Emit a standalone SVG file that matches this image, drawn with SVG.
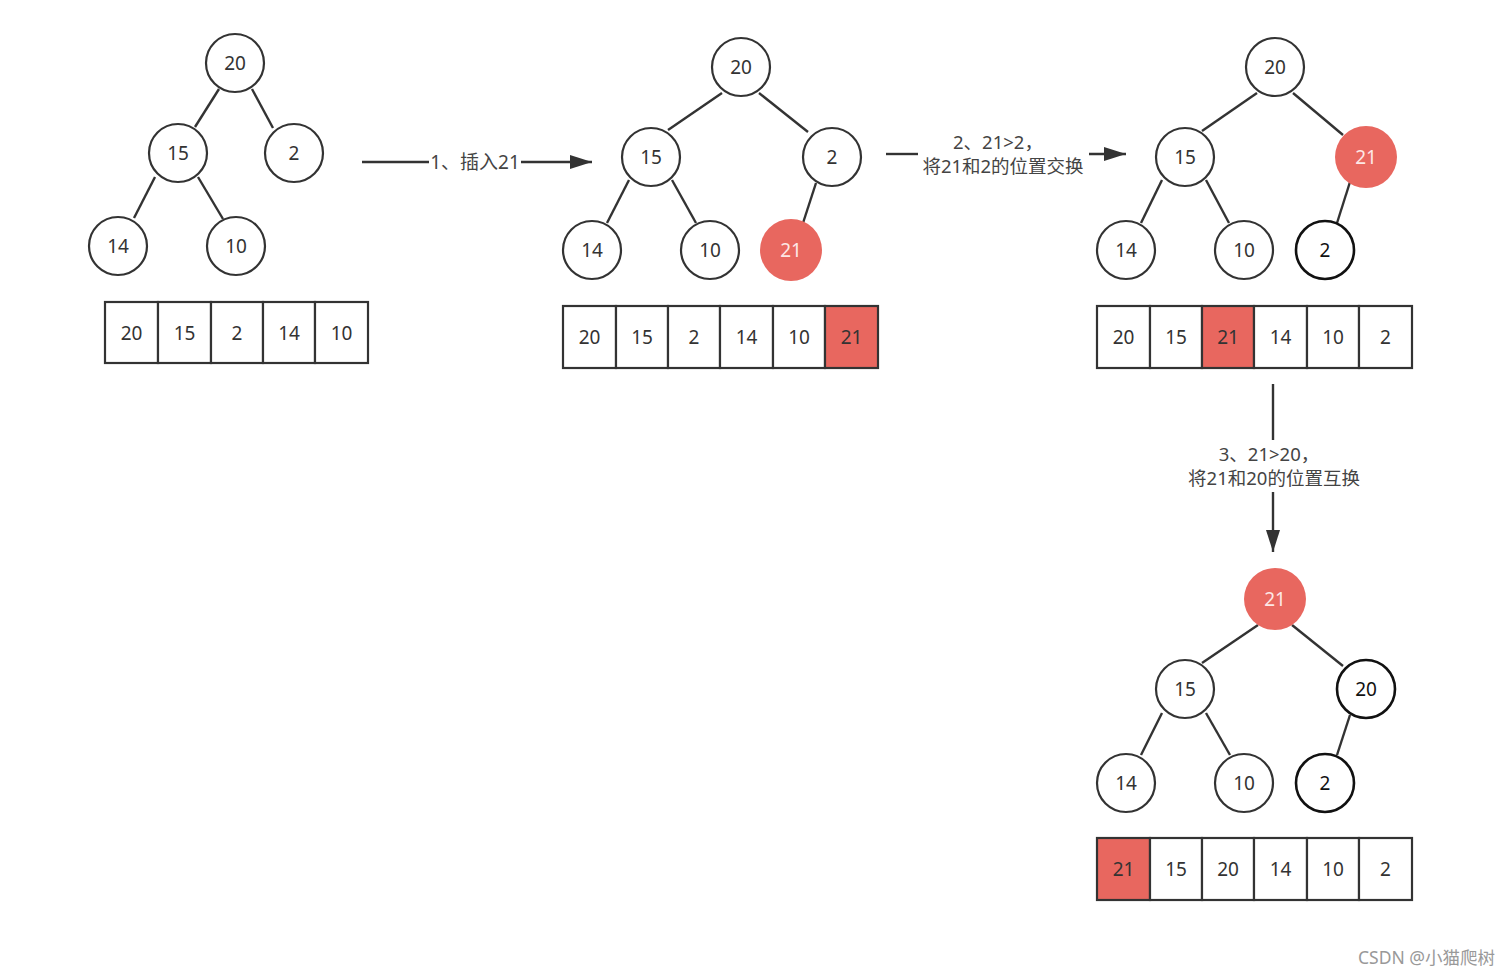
<svg xmlns="http://www.w3.org/2000/svg" width="1510" height="976" viewBox="0 0 1510 976">
<style>
.n{fill:#fff;stroke:#333;stroke-width:2.2}
.nb{fill:#fff;stroke:#111;stroke-width:2.6}
.nr{fill:#e8675f;stroke:none}
.t{font-family:"Noto Sans","Open Sans","Noto Sans CJK SC",sans-serif;font-size:19px;fill:#333;text-anchor:middle;dominant-baseline:central}
.tw{fill:#fde8e6}
.tk{fill:#111}
.c{fill:#fff;stroke:#333;stroke-width:2.2}
.cr{fill:#e8675f;stroke:#333;stroke-width:2.2}
.e{stroke:#333;stroke-width:2.4;fill:none}
.lbl{font-family:"Noto Sans","Noto Sans CJK SC",sans-serif;font-size:19px;fill:#444;text-anchor:middle;dominant-baseline:central}
.lb2{font-family:"Noto Sans","Noto Sans CJK SC",sans-serif;font-size:18.5px;fill:#444;text-anchor:middle}
.wm{font-family:"Noto Sans","Noto Sans CJK SC",sans-serif;font-size:17.5px;fill:#999}
</style>
<defs>
<marker id="ah" markerWidth="24" markerHeight="14" refX="22" refY="7" orient="auto" markerUnits="userSpaceOnUse">
<path d="M0,0 L22,7 L0,14 Z" fill="#333"/>
</marker>
</defs>
<rect width="1510" height="976" fill="#fff"/>

<g id="connectors">
<!-- tree 1 edges -->
<line class="e" x1="219" y1="89" x2="195" y2="127"/>
<line class="e" x1="252" y1="89" x2="273" y2="128"/>
<line class="e" x1="155" y1="177" x2="134" y2="218"/>
<line class="e" x1="198" y1="177" x2="223" y2="219"/>
<!-- tree 2 edges -->
<line class="e" x1="722" y1="93" x2="668" y2="130"/>
<line class="e" x1="759" y1="93" x2="808" y2="132"/>
<line class="e" x1="629" y1="180" x2="607" y2="223"/>
<line class="e" x1="672" y1="180" x2="696" y2="223"/>
<line class="e" x1="816" y1="183" x2="803" y2="223"/>
<!-- tree 3 edges -->
<line class="e" x1="1257" y1="93" x2="1202" y2="131"/>
<line class="e" x1="1293" y1="93" x2="1343" y2="135"/>
<line class="e" x1="1162" y1="180" x2="1141" y2="223"/>
<line class="e" x1="1206" y1="180" x2="1229" y2="223"/>
<line class="e" x1="1350" y1="182" x2="1337" y2="223"/>
<!-- tree 4 edges -->
<line class="e" x1="1258" y1="625" x2="1202" y2="663"/>
<line class="e" x1="1292" y1="625" x2="1343" y2="666"/>
<line class="e" x1="1162" y1="713" x2="1141" y2="755"/>
<line class="e" x1="1206" y1="713" x2="1230" y2="755"/>
<line class="e" x1="1350" y1="715" x2="1337" y2="755"/>
<!-- step arrows -->
<line class="e" x1="362" y1="162" x2="429" y2="162"/>
<line class="e" x1="521" y1="162" x2="592" y2="162" marker-end="url(#ah)"/>
<text class="lbl" x="475" y="162">1、插入21</text>
<line class="e" x1="886" y1="154" x2="918" y2="154"/>
<line class="e" x1="1089" y1="154" x2="1126" y2="154" marker-end="url(#ah)"/>
<text class="lb2" x="998" y="149">2、21&gt;2，</text>
<text class="lb2" x="1003" y="173">将21和2的位置交换</text>
<line class="e" x1="1273" y1="384" x2="1273" y2="440"/>
<line class="e" x1="1273" y1="492" x2="1273" y2="552" marker-end="url(#ah)"/>
<text class="lb2" x="1269" y="461">3、21&gt;20，</text>
<text class="lb2" x="1274" y="485">将21和20的位置互换</text>
</g>

<!-- tree 1 -->
<g id="t1-n20"><circle class="n" cx="235" cy="63" r="29"/><text class="t" x="235" y="63">20</text></g>
<g id="t1-n15"><circle class="n" cx="178" cy="153" r="29"/><text class="t" x="178" y="153">15</text></g>
<g id="t1-n2"><circle class="n" cx="294" cy="153" r="29"/><text class="t" x="294" y="153">2</text></g>
<g id="t1-n14"><circle class="n" cx="118" cy="246" r="29"/><text class="t" x="118" y="246">14</text></g>
<g id="t1-n10"><circle class="n" cx="236" cy="246" r="29"/><text class="t" x="236" y="246">10</text></g>
<g id="t1-array">
<rect class="c" x="105" y="302" width="53" height="61"/><text class="t" x="131.5" y="333">20</text>
<rect class="c" x="158" y="302" width="53" height="61"/><text class="t" x="184.5" y="333">15</text>
<rect class="c" x="211" y="302" width="52" height="61"/><text class="t" x="237" y="333">2</text>
<rect class="c" x="263" y="302" width="52" height="61"/><text class="t" x="289" y="333">14</text>
<rect class="c" x="315" y="302" width="53" height="61"/><text class="t" x="341.5" y="333">10</text>
</g>

<!-- tree 2 -->
<g id="t2-n20"><circle class="n" cx="741" cy="67" r="29"/><text class="t" x="741" y="67">20</text></g>
<g id="t2-n15"><circle class="n" cx="651" cy="157" r="29"/><text class="t" x="651" y="157">15</text></g>
<g id="t2-n2"><circle class="n" cx="832" cy="157" r="29"/><text class="t" x="832" y="157">2</text></g>
<g id="t2-n14"><circle class="n" cx="592" cy="250" r="29"/><text class="t" x="592" y="250">14</text></g>
<g id="t2-n10"><circle class="n" cx="710" cy="250" r="29"/><text class="t" x="710" y="250">10</text></g>
<g id="t2-n21"><circle class="nr" cx="791" cy="250" r="31"/><text class="t tw" x="791" y="250">21</text></g>
<g id="t2-array">
<rect class="c" x="563" y="306" width="53" height="62"/><text class="t" x="589.5" y="337">20</text>
<rect class="c" x="616" y="306" width="52" height="62"/><text class="t" x="642" y="337">15</text>
<rect class="c" x="668" y="306" width="52" height="62"/><text class="t" x="694" y="337">2</text>
<rect class="c" x="720" y="306" width="53" height="62"/><text class="t" x="746.5" y="337">14</text>
<rect class="c" x="773" y="306" width="52" height="62"/><text class="t" x="799" y="337">10</text>
<rect class="cr" x="825" y="306" width="53" height="62"/><text class="t" x="851.5" y="337">21</text>
</g>

<!-- tree 3 -->
<g id="t3-n20"><circle class="n" cx="1275" cy="67" r="29"/><text class="t" x="1275" y="67">20</text></g>
<g id="t3-n15"><circle class="n" cx="1185" cy="157" r="29"/><text class="t" x="1185" y="157">15</text></g>
<g id="t3-n21"><circle class="nr" cx="1366" cy="157" r="31"/><text class="t tw" x="1366" y="157">21</text></g>
<g id="t3-n14"><circle class="n" cx="1126" cy="250" r="29"/><text class="t" x="1126" y="250">14</text></g>
<g id="t3-n10"><circle class="n" cx="1244" cy="250" r="29"/><text class="t" x="1244" y="250">10</text></g>
<g id="t3-n2"><circle class="nb" cx="1325" cy="250" r="29"/><text class="t tk" x="1325" y="250">2</text></g>
<g id="t3-array">
<rect class="c" x="1097" y="306" width="53" height="62"/><text class="t" x="1123.5" y="337">20</text>
<rect class="c" x="1150" y="306" width="52" height="62"/><text class="t" x="1176" y="337">15</text>
<rect class="cr" x="1202" y="306" width="52" height="62"/><text class="t" x="1228" y="337">21</text>
<rect class="c" x="1254" y="306" width="53" height="62"/><text class="t" x="1280.5" y="337">14</text>
<rect class="c" x="1307" y="306" width="52" height="62"/><text class="t" x="1333" y="337">10</text>
<rect class="c" x="1359" y="306" width="53" height="62"/><text class="t" x="1385.5" y="337">2</text>
</g>

<!-- tree 4 -->
<g id="t4-n21"><circle class="nr" cx="1275" cy="599" r="31"/><text class="t tw" x="1275" y="599">21</text></g>
<g id="t4-n15"><circle class="n" cx="1185" cy="689" r="29"/><text class="t" x="1185" y="689">15</text></g>
<g id="t4-n20"><circle class="nb" cx="1366" cy="689" r="29"/><text class="t tk" x="1366" y="689">20</text></g>
<g id="t4-n14"><circle class="n" cx="1126" cy="783" r="29"/><text class="t" x="1126" y="783">14</text></g>
<g id="t4-n10"><circle class="n" cx="1244" cy="783" r="29"/><text class="t" x="1244" y="783">10</text></g>
<g id="t4-n2"><circle class="nb" cx="1325" cy="783" r="29"/><text class="t tk" x="1325" y="783">2</text></g>
<g id="t4-array">
<rect class="cr" x="1097" y="838" width="53" height="62"/><text class="t" x="1123.5" y="869">21</text>
<rect class="c" x="1150" y="838" width="52" height="62"/><text class="t" x="1176" y="869">15</text>
<rect class="c" x="1202" y="838" width="52" height="62"/><text class="t" x="1228" y="869">20</text>
<rect class="c" x="1254" y="838" width="53" height="62"/><text class="t" x="1280.5" y="869">14</text>
<rect class="c" x="1307" y="838" width="52" height="62"/><text class="t" x="1333" y="869">10</text>
<rect class="c" x="1359" y="838" width="53" height="62"/><text class="t" x="1385.5" y="869">2</text>
</g>

<text class="wm" x="1358" y="964">CSDN @小猫爬树</text>
</svg>
